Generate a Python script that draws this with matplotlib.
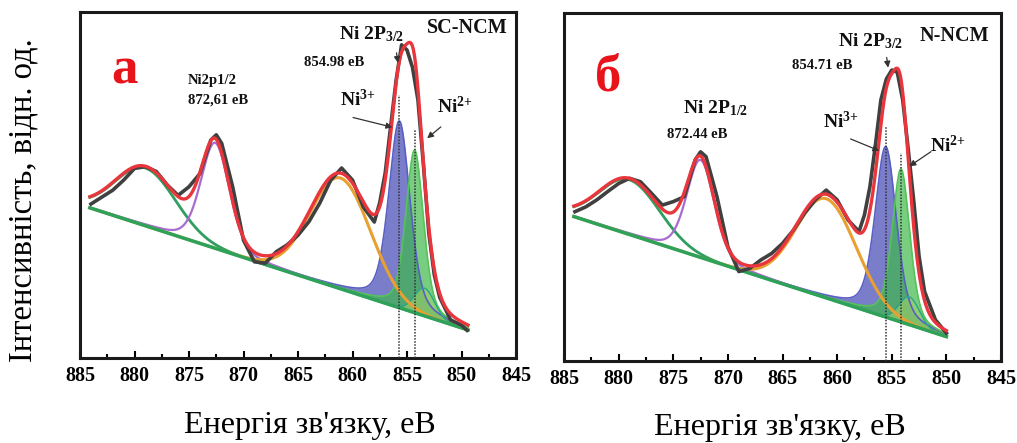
import numpy as np
import matplotlib
matplotlib.use("Agg")
import matplotlib.pyplot as plt

plt.rcParams['font.family'] = 'Liberation Serif'
plt.rcParams['mathtext.fontset'] = 'custom'
plt.rcParams['mathtext.rm'] = 'Liberation Serif:bold'
plt.rcParams['mathtext.bf'] = 'Liberation Serif:bold'
plt.rcParams['mathtext.default'] = 'bf'

# ---- data (intensity in arbitrary units, 0..100) ----
# panel a: SC-NCM
raw_e_a = [884, 883, 882, 881, 880, 879, 878, 877, 876, 875, 874, 873, 872.5, 872, 871, 870,
           869, 868, 867, 866, 865, 864, 863, 862, 861, 860, 859, 858, 857.5, 857, 856.5, 856,
           855.5, 855, 854.5, 854, 853.5, 853, 852.5, 852, 851, 850, 849.5]
raw_i_a = [44.5, 46.5, 48.5, 51.4, 54.8, 55.3, 53.9, 50.0, 47.0, 49.5, 53.3, 63.0, 64.5, 62.0, 49.5, 34.0,
           27.8, 27.4, 30.7, 32.7, 35.5, 39.4, 44.8, 51.4, 54.9, 51.4, 43.6, 39.3, 45.0, 53.5, 67.0, 80.3,
           90.5, 89.0, 84.0, 74.6, 56.0, 36.0, 24.0, 17.5, 11.0, 9.5, 8.0]
bg_e_a = [884.1, 849.4]
bg_i_a = [43.4, 8.1]
# fitted components: satellite, Ni 2p1/2, satellite, Ni3+, Ni2+, shoulder
comp_c_a = [879.0, 872.6, 861.1, 855.7, 854.3, 853.4]
comp_h_a = [16.7, 30.5, 32.0, 54.0, 47.0, 8.0]
comp_w_a = [6.5, 3.1, 6.5, 2.3, 1.9, 2.2]
comp_l_a = [0.0, 0.25, 0.0, 0.4, 0.4, 0.0]

# panel б: N-NCM
raw_e_b = [884, 883, 882, 881, 880, 879, 878, 877, 876, 875, 874, 873, 872.5, 872, 871, 870,
           869, 868, 867, 866, 865, 864, 863, 862, 861, 860, 859, 858, 857.5, 857, 856.5, 856,
           855.5, 855, 854.5, 854, 853.5, 853, 852.5, 852, 851, 850]
raw_i_b = [42.9, 44.3, 46.3, 48.7, 51.0, 52.5, 51.5, 48.2, 44.8, 45.8, 47.2, 57.8, 60.1, 58.7, 47.2, 32.8,
           25.7, 26.6, 29.0, 30.9, 33.8, 37.6, 42.4, 46.3, 49.1, 46.3, 40.5, 37.2, 42.0, 50.1, 62.0, 75.0,
           81.0, 83.6, 83.0, 75.0, 61.0, 46.3, 30.0, 20.0, 11.8, 8.0]
bg_e_b = [884.1, 850.0]
bg_i_b = [41.5, 7.0]
comp_c_b = [879.0, 872.5, 861.0, 855.55, 854.15, 853.4]
comp_h_b = [15.7, 28.0, 28.5, 49.0, 44.0, 8.0]
comp_w_b = [6.5, 3.0, 6.5, 2.3, 1.9, 2.2]
comp_l_b = [0.0, 0.25, 0.0, 0.4, 0.4, 0.0]

comp_colors = ['#2f9e5e', '#a66ccf', '#e8a030', '#4d52b8', '#3fb84a', '#9fd16a']


def pvoigt(x, c, h, w, eta):
    r = ((x - c) / w) ** 2
    return h * ((1 - eta) * np.exp(-4 * np.log(2) * r) + eta / (1 + 4 * r))


def draw_panel(ax, raw_e, raw_i, bg_e, bg_i, cc, ch, cw, cl, labels, peak_lines):
    x = np.linspace(bg_e[0], bg_e[1], 700)
    bg = np.interp(x, bg_e[::-1], bg_i[::-1])
    comps = [pvoigt(x, c, h, w, l) for c, h, w, l in zip(cc, ch, cw, cl)]
    # filled Ni3+ / Ni2+ / shoulder
    ax.fill_between(x, bg, bg + comps[3], color=comp_colors[3], alpha=0.75, lw=0, zorder=2)
    ax.fill_between(x, bg, bg + comps[4], color=comp_colors[4], alpha=0.7, lw=0, zorder=3)
    ax.fill_between(x, bg, bg + comps[5], color=comp_colors[5], alpha=0.6, lw=0, zorder=3)
    ax.plot(x, bg + comps[3], color='#5a5fc4', lw=1.2, zorder=3)
    ax.plot(x, bg + comps[4], color='#56c35a', lw=1.2, zorder=3)
    ax.plot(x, bg + comps[5], color='#2aa58a', lw=1.0, zorder=3)
    # satellite / 2p1/2 lines
    ax.plot(x, bg + comps[0], color=comp_colors[0], lw=2.0, zorder=4)
    ax.plot(x, bg + comps[1], color=comp_colors[1], lw=1.6, zorder=4)
    ax.plot(x, bg + comps[2], color=comp_colors[2], lw=2.2, zorder=4)
    ax.plot(x, bg, color='#2fa25a', lw=2.5, zorder=5)
    # raw spectrum and envelope
    ax.plot(raw_e, raw_i, color='#404040', lw=2.6, zorder=5)
    ax.plot(x, bg + sum(comps), color='#e8363c', lw=2.4, zorder=6)
    for e0, top in peak_lines:
        ax.vlines(e0, 0, top, colors='#333333', linestyles=(0, (1, 1)), lw=1.1, zorder=7)

    ax.set_xlim(885, 845)
    ax.set_ylim(0, 100)
    ax.set_xticks(range(885, 844, -5))
    ax.set_xticks(np.arange(882.5, 845, -5), minor=True)
    ax.set_yticks([])
    ax.tick_params(axis='x', which='major', direction='in', length=5, width=1.5,
                   labelsize=14.5, pad=6, top=False)
    ax.tick_params(axis='x', which='minor', direction='in', length=3, width=1.5, top=False)
    for lab in ax.get_xticklabels():
        lab.set_fontweight('bold')
    for sp in ax.spines.values():
        sp.set_linewidth(2.2)
        sp.set_color('#1a1a1a')

    for txt, xy, kw in labels:
        ax.text(xy[0], xy[1], txt, zorder=8, **kw)


fig = plt.figure(figsize=(10.17, 4.43), dpi=100)
ax_a = fig.add_axes([0.0787, 0.1919, 0.4287, 0.781])
ax_b = fig.add_axes([0.5546, 0.1851, 0.4297, 0.7856])

bold = dict(fontweight='bold', color='#111111')
labels_a = [
    ('а', (880.9, 83.0), dict(fontsize=38, fontweight='bold', color='#e8141c', ha='center', va='center')),
    ('SC-NCM', (849.5, 95.4), dict(fontsize=14.5, ha='center', va='center', **bold)),
    ('Ni 2P$_{3/2}$', (861.2, 93.6), dict(fontsize=14, ha='left', va='center', **bold)),
    ('854.98 eB', (861.7, 85.5), dict(fontsize=10.5, ha='center', va='center', **bold)),
    ('Ni2p1/2', (875.1, 80.3), dict(fontsize=10.5, ha='left', va='center', **bold)),
    ('872,61 eB', (875.1, 74.6), dict(fontsize=10.5, ha='left', va='center', **bold)),
    ('Ni$^{3{+}}$', (859.5, 74.6), dict(fontsize=14, ha='center', va='center', **bold)),
    ('Ni$^{2{+}}$', (850.6, 72.8), dict(fontsize=14, ha='center', va='center', **bold)),
]
labels_b = [
    ('б', (881.0, 81.6), dict(fontsize=38, fontweight='bold', color='#e8141c', ha='center', va='center')),
    ('N-NCM', (849.3, 93.4), dict(fontsize=14.5, ha='center', va='center', **bold)),
    ('Ni 2P$_{3/2}$', (859.9, 92.0), dict(fontsize=14, ha='left', va='center', **bold)),
    ('854.71 eB', (861.4, 84.8), dict(fontsize=10.5, ha='center', va='center', **bold)),
    ('Ni 2P$_{1/2}$', (874.1, 72.7), dict(fontsize=14, ha='left', va='center', **bold)),
    ('872.44 eB', (875.6, 65.2), dict(fontsize=10.5, ha='left', va='center', **bold)),
    ('Ni$^{3{+}}$', (859.7, 68.7), dict(fontsize=14, ha='center', va='center', **bold)),
    ('Ni$^{2{+}}$', (849.85, 62.0), dict(fontsize=14, ha='center', va='center', **bold)),
]

draw_panel(ax_a, raw_e_a, raw_i_a, bg_e_a, bg_i_a, comp_c_a, comp_h_a, comp_w_a, comp_l_a,
           labels_a, [(855.7, 76.0), (854.3, 65.9)])
draw_panel(ax_b, raw_e_b, raw_i_b, bg_e_b, bg_i_b, comp_c_b, comp_h_b, comp_w_b, comp_l_b,
           labels_b, [(855.55, 67.2), (854.15, 59.8)])

arrow = dict(arrowstyle='-|>', color='#333333', lw=0.9, mutation_scale=9)
ax_a.annotate('', xy=(856.1, 66.5), xytext=(860.2, 69.7), arrowprops=arrow, zorder=8)
ax_a.annotate('', xy=(853.35, 63.0), xytext=(851.7, 67.3), arrowprops=arrow, zorder=8)
ax_a.annotate('', xy=(855.8, 84.5), xytext=(856.0, 89.0), arrowprops=arrow, zorder=8)
ax_b.annotate('', xy=(855.9, 60.1), xytext=(859.0, 64.1), arrowprops=arrow, zorder=8)
ax_b.annotate('', xy=(853.6, 55.5), xytext=(851.2, 60.6), arrowprops=arrow, zorder=8)
ax_b.annotate('', xy=(855.3, 83.5), xytext=(855.5, 88.0), arrowprops=arrow, zorder=8)

fig.text(0.023, 1 - 200 / 443, 'Інтенсивність, відн. од.', rotation=90, fontsize=23.5,
         ha='center', va='center')
fig.text(310 / 1017, 1 - 425 / 443, "Енергія зв'язку, еВ", fontsize=23, ha='center', va='center')
fig.text(780 / 1017, 1 - 427 / 443, "Енергія зв'язку, еВ", fontsize=23, ha='center', va='center')

fig.savefig('out.png', dpi=100)
